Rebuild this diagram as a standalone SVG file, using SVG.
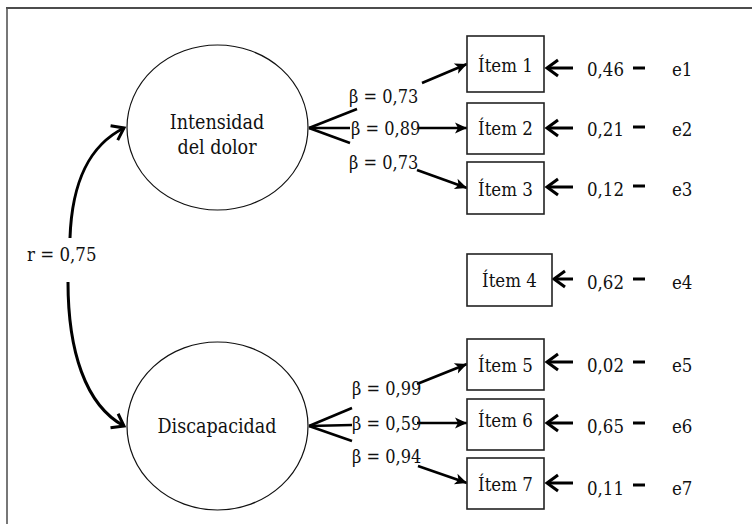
<svg xmlns="http://www.w3.org/2000/svg" width="752" height="524" viewBox="0 0 752 524">
<style>
text{font-family:"DejaVu Serif Condensed","DejaVu Serif","Liberation Serif",serif;font-stretch:condensed;fill:#111}
.lat{font-size:19.5px;text-anchor:middle}
.box{fill:#fff;stroke:#222;stroke-width:1.6}
.ell{fill:#fff;stroke:#111;stroke-width:1.2}
.it{font-size:18.5px;text-anchor:middle}
.val{font-size:18.5px}
.b{font-size:18px}
.fan{stroke:#000;stroke-width:2.6;fill:none}
.ea{stroke:#000;stroke-width:3;fill:none;marker-end:url(#chev)}
.ba{stroke:#000;stroke-width:2.6;fill:none;marker-end:url(#tri)}
.dash{stroke:#000;stroke-width:3}
</style>
<defs>
<marker id="chev" markerUnits="userSpaceOnUse" viewBox="-14 -10 16 20" refX="0" refY="0" markerWidth="16" markerHeight="20" orient="auto" overflow="visible">
<path d="M-11,-8 L0,0 L-11,8" fill="none" stroke="#000" stroke-width="3"/>
</marker>
<marker id="tri" markerUnits="userSpaceOnUse" viewBox="-12 -6 13 12" refX="0" refY="0" markerWidth="13" markerHeight="12" orient="auto" overflow="visible">
<path d="M-12,-5.5 L0,0 L-12,5.5 L-9,0 Z" fill="#000"/>
</marker>
</defs>
<rect width="752" height="524" fill="#fff"/>
<g id="frame">
<line x1="6" y1="8" x2="752" y2="8" stroke="#111" stroke-width="1.4"/>
<line x1="7" y1="8" x2="7" y2="524" stroke="#555" stroke-width="1.6"/>
</g>
<g id="connectors">
<path class="ea" d="M70,238 C72,180 90,145 124,128"/>
<path class="ea" d="M68,282 C68,350 85,405 124,426"/>
<line class="fan" x1="309" y1="128" x2="357" y2="109"/>
<line class="fan" x1="309" y1="128" x2="350" y2="128"/>
<line class="fan" x1="309" y1="128" x2="350" y2="143"/>
<line class="ba" x1="422" y1="83" x2="467" y2="64"/>
<line class="ba" x1="418" y1="128" x2="467" y2="128"/>
<line class="ba" x1="417" y1="170" x2="467" y2="188"/>
<line class="fan" x1="309" y1="426" x2="352" y2="408"/>
<line class="fan" x1="309" y1="426" x2="352" y2="425"/>
<line class="fan" x1="309" y1="426" x2="352" y2="441"/>
<line class="ba" x1="417" y1="384" x2="467" y2="364"/>
<line class="ba" x1="417" y1="423" x2="467" y2="423"/>
<line class="ba" x1="418" y1="466" x2="467" y2="483"/>
<line class="ea" x1="573" y1="68" x2="547" y2="68"/>
<line class="ea" x1="573" y1="128" x2="547" y2="128"/>
<line class="ea" x1="573" y1="187" x2="547" y2="187"/>
<line class="ea" x1="573" y1="279" x2="554" y2="279"/>
<line class="ea" x1="573" y1="362" x2="547" y2="362"/>
<line class="ea" x1="573" y1="423" x2="547" y2="423"/>
<line class="ea" x1="573" y1="483" x2="547" y2="483"/>
</g>
<g id="labels">
<text x="27" y="261" style="font-size:18.5px">r = 0,75</text>
<text class="b" x="349" y="103">β = 0,73</text>
<text class="b" x="351" y="135">β = 0,89</text>
<text class="b" x="349" y="169">β = 0,73</text>
<text class="b" x="352" y="395">β = 0,99</text>
<text class="b" x="352" y="430">β = 0,59</text>
<text class="b" x="352" y="463">β = 0,94</text>
</g>
<g id="intensidad">
<ellipse class="ell" cx="217.5" cy="127.5" rx="90.5" ry="82.5"/>
<text class="lat" x="217" y="129">Intensidad</text>
<text class="lat" x="217" y="154">del dolor</text>
</g>
<g id="discapacidad">
<ellipse class="ell" cx="217.5" cy="426" rx="90.5" ry="84"/>
<text class="lat" x="217" y="433">Discapacidad</text>
</g>
<g id="item1"><rect class="box" x="467" y="36" width="77" height="56"/><text class="it" x="505.5" y="72">Ítem 1</text></g>
<g id="item2"><rect class="box" x="467" y="103" width="77" height="51"/><text class="it" x="505.5" y="135">Ítem 2</text></g>
<g id="item3"><rect class="box" x="467" y="162" width="77" height="52"/><text class="it" x="505.5" y="196">Ítem 3</text></g>
<g id="item4"><rect class="box" x="467" y="254" width="85" height="52"/><text class="it" x="509.5" y="287">Ítem 4</text></g>
<g id="item5"><rect class="box" x="467" y="339" width="77" height="51"/><text class="it" x="505.5" y="372">Ítem 5</text></g>
<g id="item6"><rect class="box" x="467" y="399" width="77" height="51"/><text class="it" x="505.5" y="427">Ítem 6</text></g>
<g id="item7"><rect class="box" x="467" y="458" width="77" height="51"/><text class="it" x="505.5" y="491">Ítem 7</text></g>
<g id="e1"><text class="val" x="587" y="76">0,46</text><line class="dash" x1="633" y1="68" x2="645" y2="68"/><text class="val" x="672" y="76">e1</text></g>
<g id="e2"><text class="val" x="587" y="136">0,21</text><line class="dash" x1="633" y1="127" x2="645" y2="127"/><text class="val" x="672" y="136">e2</text></g>
<g id="e3"><text class="val" x="587" y="196">0,12</text><line class="dash" x1="633" y1="186" x2="645" y2="186"/><text class="val" x="672" y="196">e3</text></g>
<g id="e4"><text class="val" x="587" y="289">0,62</text><line class="dash" x1="633" y1="279" x2="645" y2="279"/><text class="val" x="672" y="289">e4</text></g>
<g id="e5"><text class="val" x="587" y="372">0,02</text><line class="dash" x1="633" y1="362" x2="645" y2="362"/><text class="val" x="672" y="372">e5</text></g>
<g id="e6"><text class="val" x="587" y="433">0,65</text><line class="dash" x1="633" y1="423" x2="645" y2="423"/><text class="val" x="672" y="433">e6</text></g>
<g id="e7"><text class="val" x="587" y="495">0,11</text><line class="dash" x1="633" y1="485" x2="645" y2="485"/><text class="val" x="672" y="495">e7</text></g>
</svg>
